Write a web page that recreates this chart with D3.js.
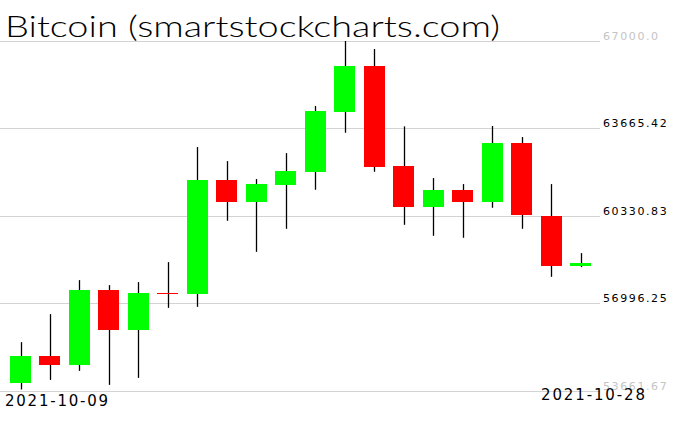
<!DOCTYPE html>
<html>
<head>
<meta charset="utf-8">
<script src="https://cdn.jsdelivr.net/npm/d3@7"></script>
<style>
  body { margin: 0; background: #fff; }
  svg { display: block; }
</style>
</head>
<body>
<div class="container"></div>
<script>
const dates = ["2021-10-09", "2021-10-10", "2021-10-11", "2021-10-12", "2021-10-13",
  "2021-10-14", "2021-10-15", "2021-10-16", "2021-10-17", "2021-10-18",
  "2021-10-19", "2021-10-20", "2021-10-21", "2021-10-22", "2021-10-23",
  "2021-10-24", "2021-10-25", "2021-10-26", "2021-10-27", "2021-10-28"];
const opens  = [53952, 54970, 54638, 57487, 55973, 57380, 57345, 61681, 60853, 61490,
  61997, 64285, 66028, 62215, 60663, 61300, 60853, 63092, 60320, 58402];
const highs  = [55504, 56571, 57868, 57677, 57792, 58554, 62939, 62405, 61719, 62710,
  64503, 66981, 66676, 63728, 61757, 61528, 63740, 63320, 61528, 58897];
const lows   = [53700, 54066, 54410, 53876, 54143, 56812, 56850, 60129, 58947, 59824,
  61311, 63484, 61997, 59976, 59557, 59481, 60625, 59824, 57994, 58364];
const closes = [54970, 54638, 57487, 55973, 57372, 57350, 61681, 60853, 61528, 62024,
  64312, 66028, 62188, 60663, 61300, 60853, 63092, 60358, 58413, 58516];
const yTicks = [67000.0, 63665.42, 60330.83, 56996.25, 53661.67];
const yTickLabels = ["67000.0", "63665.42", "60330.83", "56996.25", "53661.67"];
const title = "Bitcoin (smartstockcharts.com)";

const width = 676, height = 431;
const candles = dates.map((d, i) => ({
  date: d, open: opens[i], high: highs[i], low: lows[i], close: closes[i]
}));

const x = d3.scalePoint().domain(dates).range([20.5, 580.5]);
const y = d3.scaleLinear().domain([53661.67, 67000]).range([390.5, 40.5]);
const bodyW = x.step() * 0.713;

const svg = d3.select(".container").append("svg")
  .attr("width", width)
  .attr("height", height);

// grid
svg.append("g")
  .selectAll("line")
  .data(yTicks)
  .enter()
  .append("line")
  .attr("x1", 0)
  .attr("x2", 600)
  .attr("y1", d => Math.round(y(d)) + 0.5)
  .attr("y2", d => Math.round(y(d)) + 0.5)
  .attr("stroke", "#d3d3d3")
  .attr("stroke-width", 1);

// y labels, ends are greyed
svg.append("g")
  .selectAll("text")
  .data(yTicks)
  .enter()
  .append("text")
  .attr("x", 603)
  .attr("y", d => Math.round(y(d)) - 1.5)
  .attr("fill", (d, i) => (i === 0 || i === yTicks.length - 1) ? "#c4c4c4" : "#000")
  .style("font-family", "'DejaVu Sans', sans-serif")
  .style("font-size", "11px")
  .style("letter-spacing", "1.6px")
  .text((d, i) => yTickLabels[i]);

// wicks
svg.append("g")
  .selectAll("line")
  .data(candles)
  .enter()
  .append("line")
  .attr("x1", d => Math.round(x(d.date)) + 0.5)
  .attr("x2", d => Math.round(x(d.date)) + 0.5)
  .attr("y1", d => y(d.high))
  .attr("y2", d => y(d.low))
  .attr("stroke", "#000")
  .attr("stroke-width", 1.3);

// bodies
svg.append("g")
  .selectAll("rect")
  .data(candles)
  .enter()
  .append("rect")
  .attr("x", d => Math.round(x(d.date) - bodyW / 2))
  .attr("width", Math.round(bodyW))
  .attr("y", d => Math.round(y(Math.max(d.open, d.close))))
  .attr("height", d => Math.max(1, Math.round(Math.abs(y(d.open) - y(d.close)))))
  .attr("fill", d => d.close >= d.open ? "#00ff00" : "#ff0000");

// title
svg.append("text")
  .attr("x", 5)
  .attr("y", 37)
  .attr("textLength", 495)
  .attr("lengthAdjust", "spacingAndGlyphs")
  .style("font-family", "Lato, 'DejaVu Sans', sans-serif")
  .style("font-weight", 300)
  .style("font-size", "30px")
  .attr("fill", "#000")
  .text(title);

// date labels, first and last
svg.append("text")
  .attr("x", x(dates[0]) - 15.5)
  .attr("y", 406)
  .attr("textLength", 103)
  .attr("lengthAdjust", "spacing")
  .style("font-family", "'DejaVu Sans', sans-serif")
  .style("font-size", "15px")
  .text(dates[0]);

svg.append("text")
  .attr("x", x(dates[dates.length - 1]) - 39.5)
  .attr("y", 400)
  .attr("textLength", 104)
  .attr("lengthAdjust", "spacing")
  .style("font-family", "'DejaVu Sans', sans-serif")
  .style("font-size", "15px")
  .text(dates[dates.length - 1]);
</script>
</body>
</html>
